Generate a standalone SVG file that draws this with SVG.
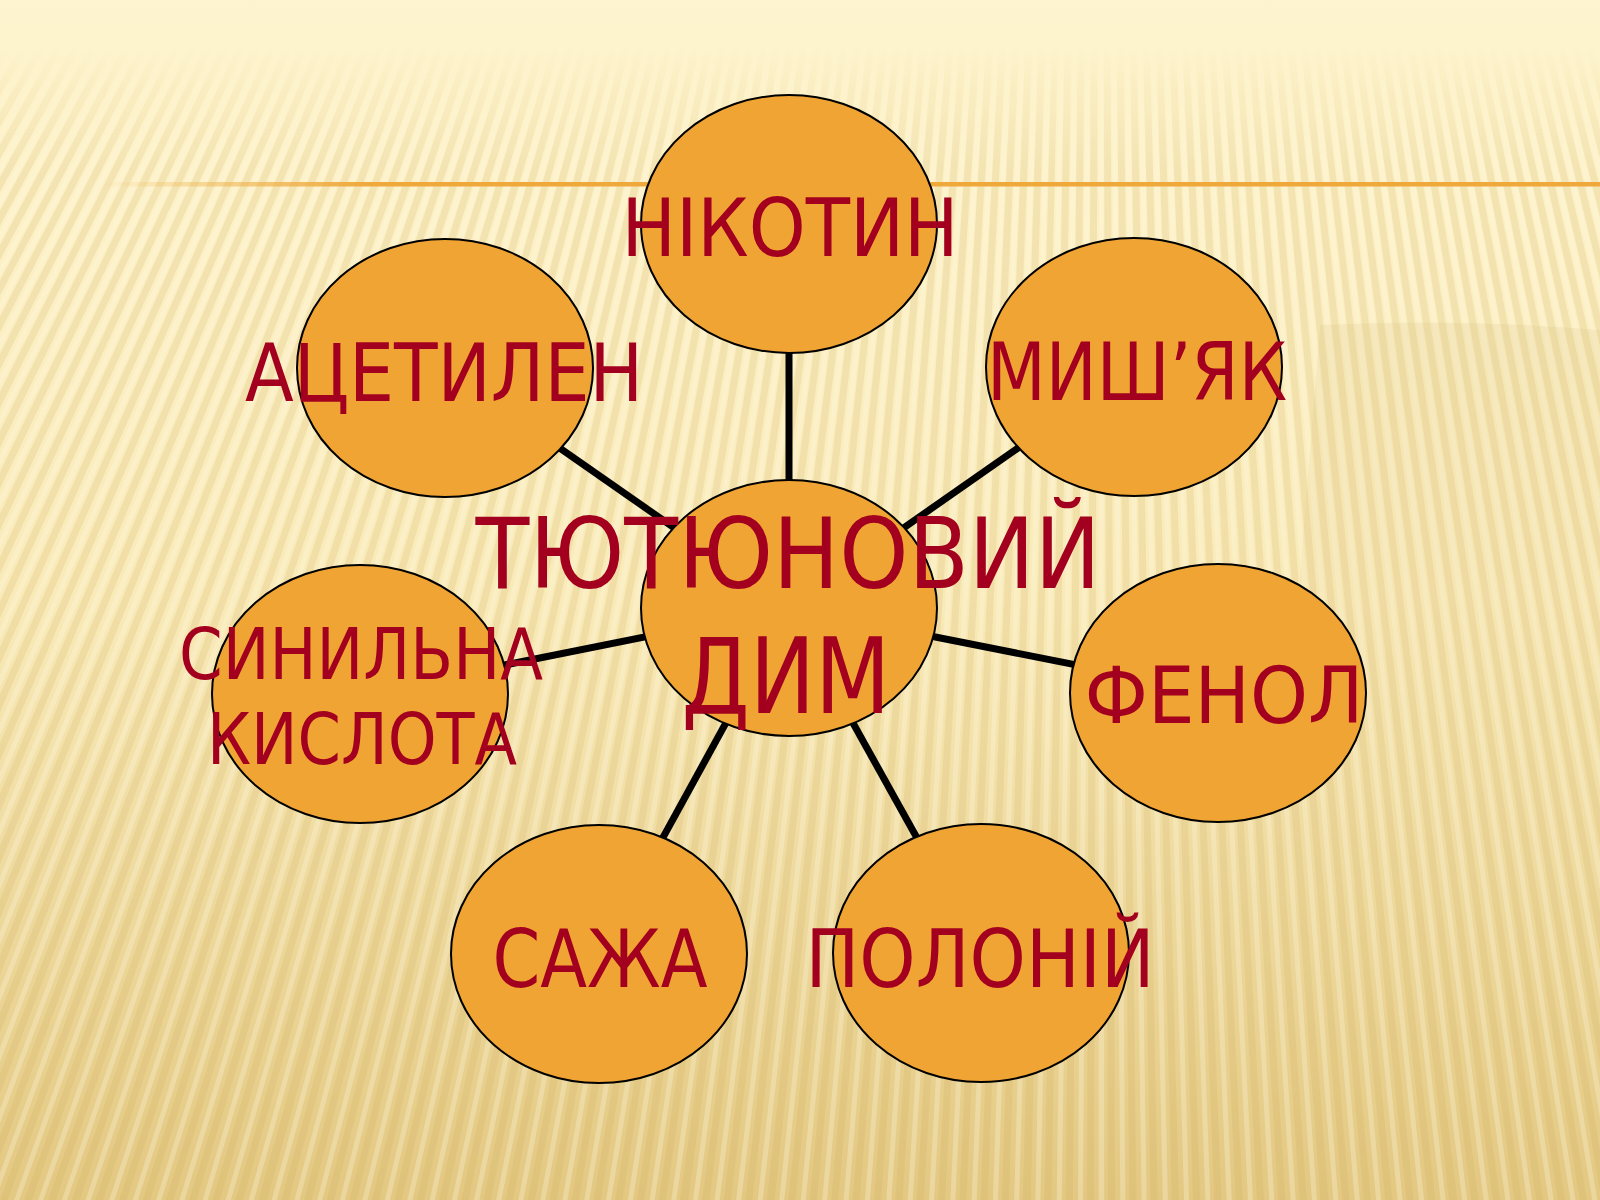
<svg xmlns="http://www.w3.org/2000/svg" width="1600" height="1200" viewBox="0 0 1600 1200">
<defs>
<style>
.node{fill:#f0a433;stroke:#000;stroke-width:2}
.lbl{font-family:"DejaVu Sans Condensed","DejaVu Sans",sans-serif;fill:#a3001f;text-anchor:middle}
.conn{stroke:#000;stroke-width:7;stroke-linecap:butt}
</style>
<linearGradient id="bg" x1="0" y1="0" x2="0" y2="1200" gradientUnits="userSpaceOnUse">
<stop offset="0" stop-color="#fdf4d0"/>
<stop offset="0.08" stop-color="#fdf2c9"/>
<stop offset="0.5" stop-color="#f9eab8"/>
<stop offset="1" stop-color="#e3c882"/>
</linearGradient>
<linearGradient id="mg" x1="0" y1="0" x2="0" y2="1200" gradientUnits="userSpaceOnUse">
<stop offset="0.04" stop-color="#000"/>
<stop offset="0.14" stop-color="#fff"/>
<stop offset="1" stop-color="#fff"/>
</linearGradient>
<mask id="m" maskUnits="userSpaceOnUse" x="0" y="0" width="1600" height="1200"><rect width="1600" height="1200" fill="url(#mg)"/></mask>
<linearGradient id="hl" x1="100" y1="0" x2="1600" y2="0" gradientUnits="userSpaceOnUse">
<stop offset="0" stop-color="#efa83a" stop-opacity="0"/>
<stop offset="0.18" stop-color="#efa83a" stop-opacity="1"/>
<stop offset="1" stop-color="#efa83a" stop-opacity="1"/>
</linearGradient>
<linearGradient id="sh" x1="0" y1="320" x2="0" y2="900" gradientUnits="userSpaceOnUse">
<stop offset="0" stop-color="#c9a65a" stop-opacity="0.12"/>
<stop offset="1" stop-color="#c9a65a" stop-opacity="0"/>
</linearGradient>
</defs>
<g id="background">
<rect width="1600" height="1200" fill="url(#bg)"/>
<g mask="url(#m)">
<circle cx="1100" cy="-1800" r="2400" fill="none" stroke="#c8a452" stroke-opacity="0.17" stroke-width="2600" stroke-dasharray="7 10"/>
<circle cx="1100" cy="-1800" r="2400" fill="none" stroke="#fffbe6" stroke-opacity="0.28" stroke-width="2600" stroke-dasharray="5 12" stroke-dashoffset="-9"/>
</g>
<path d="M1320,325 Q1460,318 1600,330 L1600,1200 L1250,1200 Z" fill="url(#sh)"/>
<rect x="100" y="182" width="1500" height="4.5" fill="url(#hl)"/>
</g>
<g id="connectors">
<line class="conn" x1="789" y1="608" x2="789" y2="224"/>
<line class="conn" x1="789" y1="608" x2="445" y2="368"/>
<line class="conn" x1="789" y1="608" x2="1134" y2="367"/>
<line class="conn" x1="789" y1="608" x2="360" y2="694"/>
<line class="conn" x1="789" y1="608" x2="1218" y2="693"/>
<line class="conn" x1="789" y1="608" x2="599" y2="954"/>
<line class="conn" x1="789" y1="608" x2="981" y2="953"/>
</g>
<g id="node-nikotyn">
<ellipse class="node" cx="789" cy="224" rx="148" ry="129"/>
<text class="lbl" x="790" y="256" font-size="80" textLength="337" lengthAdjust="spacingAndGlyphs">НІКОТИН</text>
</g>
<g id="node-atsetylen">
<ellipse class="node" cx="445" cy="368" rx="148" ry="129"/>
<text class="lbl" x="444" y="401" font-size="80" textLength="398" lengthAdjust="spacingAndGlyphs">АЦЕТИЛЕН</text>
</g>
<g id="node-myshiak">
<ellipse class="node" cx="1134" cy="367" rx="148" ry="129"/>
<text class="lbl" x="1137" y="400" font-size="80" textLength="300" lengthAdjust="spacingAndGlyphs">МИШ’ЯК</text>
</g>
<g id="node-synylna">
<ellipse class="node" cx="360" cy="694" rx="148" ry="129"/>
<text class="lbl" x="361" y="679" font-size="71" textLength="364" lengthAdjust="spacingAndGlyphs">СИНИЛЬНА</text>
<text class="lbl" x="362" y="764" font-size="71" textLength="310" lengthAdjust="spacingAndGlyphs">КИСЛОТА</text>
</g>
<g id="node-fenol">
<ellipse class="node" cx="1218" cy="693" rx="148" ry="129"/>
<text class="lbl" x="1224" y="723" font-size="78" textLength="279" lengthAdjust="spacingAndGlyphs">ФЕНОЛ</text>
</g>
<g id="node-sazha">
<ellipse class="node" cx="599" cy="954" rx="148" ry="129"/>
<text class="lbl" x="600" y="987" font-size="81" textLength="215" lengthAdjust="spacingAndGlyphs">САЖА</text>
</g>
<g id="node-polonii">
<ellipse class="node" cx="981" cy="953" rx="148" ry="129"/>
<text class="lbl" x="980" y="987" font-size="81" textLength="349" lengthAdjust="spacingAndGlyphs">ПОЛОНІЙ</text>
</g>
<g id="node-center">
<ellipse class="node" cx="789" cy="608" rx="148" ry="128"/>
<text class="lbl" x="788" y="588" font-size="98" textLength="625" lengthAdjust="spacingAndGlyphs">ТЮТЮНОВИЙ</text>
<text class="lbl" x="786" y="713" font-size="106" textLength="209" lengthAdjust="spacingAndGlyphs">ДИМ</text>
</g>
</svg>
